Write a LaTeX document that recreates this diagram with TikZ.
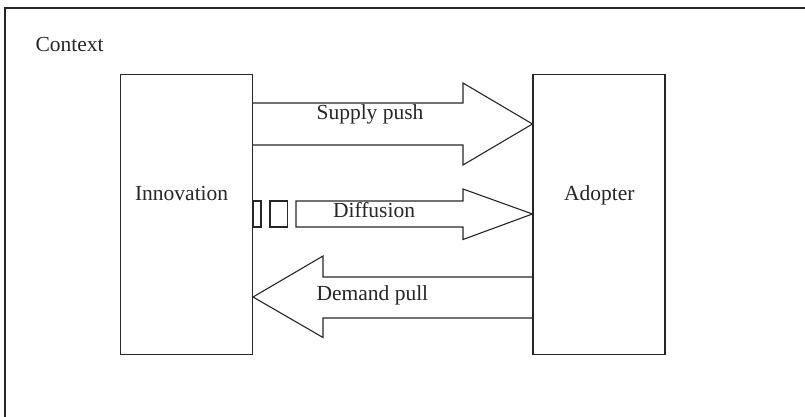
\documentclass[tikz,border=0pt]{standalone}
\usepackage{fontspec}
\setmainfont{Liberation Serif}
\usetikzlibrary{positioning}

\begin{document}
\begin{tikzpicture}[x=1pt, y=-1pt, line width=1.1pt, black!85]
	\useasboundingbox (0,0) rectangle (805,417);
	\tikzstyle{every node}=[draw, rectangle, minimum width=132pt, minimum height=280pt, line width=1.1pt]
	\draw (186.5,214.5) node (inno) {};
	\draw (599,214.5) node (adopt) {};

	% context frame, open to the right and below
	\draw (805,8) -- (5,8) -- (5,417);

	% supply push
	\draw (inno.east |- 0,103) -- (463,103) -- (463,83) -- (adopt.west |- 0,124) -- (463,165) -- (463,145) -- (inno.east |- 0,145);
	% diffusion, broken start
	\draw (inno.east |- 0,201) rectangle (261,227);
	\draw (270,201) rectangle (287.5,227);
	\draw (296,227) -- (296,201) -- (463,201) -- (463,189) -- (adopt.west |- 0,214) -- (463,239.5) -- (463,227) -- cycle;
	% demand pull
	\draw (adopt.west |- 0,277) -- (323,277) -- (323,256) -- (inno.east |- 0,297) -- (323,337.5) -- (323,318) -- (adopt.west |- 0,318);

	\tikzstyle{every node}=[font=\fontsize{21.5}{26}\selectfont, inner sep=0pt, anchor=base west]
	\draw (35,52) node (ctx) {Context};
	\draw (134.5,200) node (innotext) {Innovation};
	\draw (563.5,200) node (adopttext) {Adopter};
	\draw (316,119.5) node (push) {Supply push};
	\draw (332.5,217.5) node (diff) {Diffusion};
	\draw (316,300.5) node (pull) {Demand pull};
\end{tikzpicture}
\end{document}
